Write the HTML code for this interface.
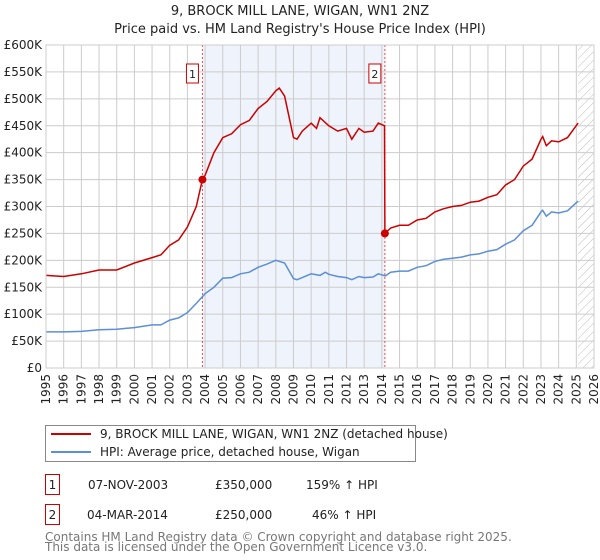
<!DOCTYPE html>
<html><head><meta charset="utf-8"><style>
body{margin:0;background:#fff;font-family:"DejaVu Sans","Liberation Sans",sans-serif;}
#wrap{position:relative;width:600px;height:560px;overflow:hidden}
</style></head><body>
<div id="wrap">
<svg id="svg" width="600" height="560" xmlns="http://www.w3.org/2000/svg" font-family="DejaVu Sans, Liberation Sans, sans-serif"></svg>
</div>
<script>
const hpiYears=[1995,1996,1997,1998,1999,2000,2001,2001.5,2002,2002.5,2003,2003.5,2004,2004.5,2005,2005.5,2006,2006.5,2007,2007.5,2008,2008.5,2009,2009.2,2009.5,2010,2010.5,2010.8,2011,2011.5,2012,2012.3,2012.7,2013,2013.5,2013.8,2014.2,2014.5,2015,2015.5,2016,2016.5,2017,2017.5,2018,2018.5,2019,2019.5,2020,2020.5,2021,2021.5,2022,2022.5,2023,2023.1,2023.3,2023.6,2024,2024.5,2025.1];
const hpiValues=[67,67,68,71,72,75,80,80,89,93,103,120,138,150,167,168,175,178,187,193,200,195,166,164,168,175,172,178,174,170,168,164,170,168,169,175,171,178,180,180,187,190,198,202,204,206,210,212,217,220,230,238,255,265,290,293,282,290,288,292,310];
const redYears=[1995,1996,1997,1998,1999,2000,2001,2001.5,2002,2002.5,2003,2003.5,2003.85,2004,2004.5,2005,2005.5,2006,2006.5,2007,2007.5,2008,2008.2,2008.5,2009,2009.2,2009.5,2010,2010.3,2010.5,2011,2011.5,2012,2012.3,2012.7,2013,2013.5,2013.8,2014.15,2014.17,2014.5,2015,2015.5,2016,2016.5,2017,2017.5,2018,2018.5,2019,2019.5,2020,2020.5,2021,2021.5,2022,2022.5,2023,2023.1,2023.3,2023.6,2024,2024.5,2025.1];
const redValues=[172,170,175,182,182,195,205,210,228,238,262,300,350,358,400,428,435,452,460,482,495,515,520,505,428,425,440,455,445,465,450,440,445,425,445,438,440,455,450,250,260,265,265,275,278,290,296,300,302,308,310,317,322,340,350,375,388,425,430,413,422,420,428,455];
const saleYears=[2003.85,2014.17];
const saleValues=[350,250];
const saleLabels=["1","2"];
const yTicks=[0,50,100,150,200,250,300,350,400,450,500,550,600];
const yTickLabels=["£0","£50K","£100K","£150K","£200K","£250K","£300K","£350K","£400K","£450K","£500K","£550K","£600K"];
const xStart=1995,xEnd=2026,hatchStart=2025.1;

const L=46,R=594,T=45,B=368;
const X=y=>L+(y-xStart)/(xEnd-xStart)*(R-L);
const Y=v=>B-v/600*(B-T);
const svg=document.getElementById('svg');
const NS="http://www.w3.org/2000/svg";
function mk(t,a,p){const e=document.createElementNS(NS,t);for(const k in a)e.setAttribute(k,a[k]);(p||svg).appendChild(e);return e;}

let t=mk('text',{x:300,y:15,'text-anchor':'middle','font-size':13,fill:'#222'});t.textContent="9, BROCK MILL LANE, WIGAN, WN1 2NZ";


t=mk('text',{x:300,y:33,'text-anchor':'middle','font-size':13,fill:'#222'});t.textContent="Price paid vs. HM Land Registry's House Price Index (HPI)";



let s=mk('rect',{x:X(saleYears[0]),y:T,width:X(saleYears[1])-X(saleYears[0]),height:B-T,fill:'#eef3fc'});


const defs=mk('defs',{});
const pat=mk('pattern',{id:'h',width:6,height:6,patternUnits:'userSpaceOnUse',patternTransform:'rotate(45)'},defs);
mk('line',{x1:0,y1:0,x2:0,y2:6,stroke:'#bbb','stroke-width':1},pat);
s=mk('rect',{x:X(hatchStart),y:T,width:R-X(hatchStart),height:B-T,fill:'url(#h)'});



for(let yr=xStart;yr<=xEnd;yr++){
  const g=mk('line',{x1:X(yr),x2:X(yr),y1:T,y2:B,stroke:'#ccc','stroke-width':1});
  
  
  const lx=X(yr)+4;
  const lb=mk('text',{x:lx,y:B+6,'font-size':12,fill:'#222','text-anchor':'end',transform:`rotate(-90 ${lx} ${B+6})`});
  lb.textContent=yr;
  
  
}
yTicks.forEach((v,i)=>{
  const g=mk('line',{x1:L,x2:R,y1:Y(v),y2:Y(v),stroke:'#ccc','stroke-width':1});
  
  
  const lb=mk('text',{x:L-4,y:Y(v)+4,'font-size':12,fill:'#222','text-anchor':'end'});
  lb.textContent=yTickLabels[i];
  
  
});
saleYears.forEach((yr,i)=>{
  const l=mk('line',{x1:X(yr),x2:X(yr),y1:T,y2:B,stroke:'#e05050','stroke-width':1,'stroke-dasharray':'2,2'});
  
  
  const bx=mk('rect',{x:X(yr)-16,y:64,width:12,height:19,fill:'#fff',stroke:'#c00','stroke-width':1});
  
  
  const tx=mk('text',{x:X(yr)-10,y:78,'font-size':11,'text-anchor':'middle',fill:'#222'});tx.textContent=saleLabels[i];
  
  
});
let p=mk('path',{d:hpiYears.map((y,i)=>(i?'L':'M')+X(y).toFixed(1)+' '+Y(hpiValues[i]).toFixed(1)).join(''),fill:'none',stroke:'#5b8fd6','stroke-width':1.5});


p=mk('path',{d:redYears.map((y,i)=>(i?'L':'M')+X(y).toFixed(1)+' '+Y(redValues[i]).toFixed(1)).join(''),fill:'none',stroke:'#cc0000','stroke-width':1.5});


saleYears.forEach((yr,i)=>{
  const c=mk('circle',{cx:X(yr),cy:Y(saleValues[i]),r:4,fill:'#cc0000'});
  
  
});
mk('rect',{x:L,y:T,width:R-L,height:B-T,fill:'none',stroke:'#ccc'});

let lg=mk('rect',{x:45.5,y:425.5,width:370,height:36,fill:'#fff',stroke:'#888'});


mk('line',{x1:51,x2:91,y1:434,y2:434,stroke:'#cc0000','stroke-width':2});
mk('line',{x1:51,x2:91,y1:452,y2:452,stroke:'#5b8fd6','stroke-width':2});
t=mk('text',{x:100,y:438,'font-size':12,fill:'#222'});t.textContent="9, BROCK MILL LANE, WIGAN, WN1 2NZ (detached house)";


t=mk('text',{x:100,y:456,'font-size':12,fill:'#222'});t.textContent="HPI: Average price, detached house, Wigan";



const rows=[["1","07-NOV-2003","£350,000","159% ↑ HPI",88,306],["2","04-MAR-2014","£250,000","46% ↑ HPI",87,312]];
rows.forEach((r,i)=>{
  const y=i?515:485;
  const b=mk('rect',{x:45.5,y:y-10.5,width:14,height:20,fill:'#fff',stroke:'#c00'});
  
  
  let tt=mk('text',{x:52.5,y:y+4,'font-size':12,'text-anchor':'middle',fill:'#222'});tt.textContent=r[0];
  tt=mk('text',{x:r[4],y:y+4,'font-size':12,fill:'#222'});tt.textContent=r[1];
  
  
  tt=mk('text',{x:215,y:y+4,'font-size':12,fill:'#222'});tt.textContent=r[2];
  
  
  tt=mk('text',{x:r[5],y:y+4,'font-size':12,fill:'#222'});tt.textContent=r[3];
  
  
});
t=mk('text',{x:45,y:541,'font-size':12,fill:'#777'});t.textContent="Contains HM Land Registry data © Crown copyright and database right 2025.";


t=mk('text',{x:45,y:551,'font-size':12,fill:'#777'});t.textContent="This data is licensed under the Open Government Licence v3.0.";


</script>
</body></html>
